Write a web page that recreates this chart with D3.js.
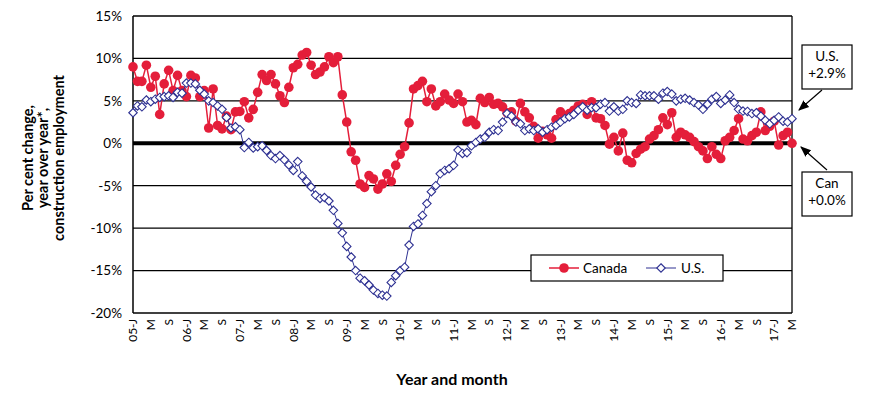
<!DOCTYPE html>
<html>
<head>
<meta charset="utf-8">
<script src="https://cdn.jsdelivr.net/npm/d3@7"></script>
<style>
  body { margin: 0; background: #fff; }
  text { font-family: Lato, "Open Sans", sans-serif; fill: #000; }
</style>
</head>
<body>
<script>
// monthly, Jan 2005 .. May 2017
const canada = [
  9.0, 7.3, 7.3, 9.2, 6.6, 7.9, 3.4, 7.0, 8.6, 6.2, 8.0, 6.2,
  5.5, 8.0, 7.7, 5.5, 6.2, 1.8, 6.4, 2.1, 1.7, 3.2, 1.6, 3.7,
  3.75, 4.9, 3.0, 4.0, 6.0, 8.1, 7.4, 8.1, 7.0, 5.6, 4.8, 6.6,
  8.9, 9.3, 10.4, 10.7, 9.2, 8.1, 8.4, 9.0, 10.2, 9.5, 10.2, 5.7,
  2.5, -1.0, -2.0, -4.8, -5.2, -3.8, -4.2, -5.4, -4.8, -3.6, -4.5, -2.6,
  -1.3, -0.4, 2.4, 6.4, 6.8, 7.3, 4.9, 6.4, 4.4, 4.9, 5.8, 5.1,
  4.7, 5.8, 4.9, 2.5, 2.7, 2.2, 5.3, 4.8, 5.4, 4.6, 4.7, 4.3,
  3.6, 3.7, 2.6, 4.7, 3.7, 3.0, 2.0, 0.6, 1.4, 1.0, 0.6, 2.8,
  3.7, 3.2, 3.5, 3.9, 4.4, 4.6, 3.4, 4.9, 3.0, 2.9, 2.1, -0.1,
  0.7, -0.9, 1.2, -2.0, -2.3, -1.2, -0.7, -0.4, 0.5, 0.9, 1.6, 3.0,
  2.2, 3.6, 0.7, 1.3, 1.0, 0.7, 0.2, -0.4, -0.9, -1.8, -0.4, -1.3,
  -1.8, 0.3, 0.7, 1.5, 2.9, 0.5, 0.3, 0.9, 1.3, 3.7, 1.5, 2.0,
  2.6, -0.2, 0.9, 1.3, 0.0
];
const us = [
  3.6, 4.4, 4.3, 5.1, 4.9, 5.2, 5.4, 5.5, 5.6, 5.4, 6.0, 5.9,
  7.1, 7.1, 7.0, 6.25, 5.8, 5.0, 4.8, 4.4, 4.0, 3.05, 1.8, 1.95,
  1.6, -0.5, 0.1, -0.55, -0.4, -0.3, -0.85, -1.45, -1.8, -1.45, -1.95, -2.55,
  -3.2, -2.15, -3.85, -4.5, -5.15, -6.1, -6.5, -6.4, -6.8, -7.9, -9.45, -10.55,
  -12.15, -13.4, -15.0, -15.9, -16.2, -16.7, -17.3, -17.7, -17.9, -18.0, -16.4, -15.6,
  -15.0, -14.6, -12.0, -9.8, -9.5, -8.5, -7.1, -5.7, -5.0, -3.6, -3.2, -3.0,
  -2.6, -0.8, -1.2, -1.1, -0.3, 0.1, 0.5, 0.7, 1.3, 1.6, 1.5, 2.5,
  3.5, 3.2, 2.5, 2.3, 1.5, 1.7, 1.5, 1.7, 1.3, 1.6, 1.9, 2.1,
  2.5, 2.9, 3.1, 3.4, 3.9, 4.3, 3.9, 4.2, 4.2, 4.6, 4.8, 3.8,
  4.3, 3.8, 4.0, 5.0, 4.8, 4.7, 5.7, 5.6, 5.6, 5.6, 5.2, 5.9,
  6.1, 5.8, 5.0, 5.2, 5.3, 5.1, 4.8, 4.5, 4.0, 4.6, 5.2, 5.5,
  4.7, 5.1, 5.7, 4.8, 4.0, 3.8, 3.75, 3.5, 3.6, 3.2, 2.7, 2.3,
  2.7, 3.1, 2.6, 2.5, 2.9
];
// one label every 4 months
const monthLabels = [
  '05-J', 'M', 'S', '06-J', 'M', 'S', '07-J', 'M', 'S', '08-J', 'M', 'S',
  '09-J', 'M', 'S', '10-J', 'M', 'S', '11-J', 'M', 'S', '12-J', 'M', 'S',
  '13-J', 'M', 'S', '14-J', 'M', 'S', '15-J', 'M', 'S', '16-J', 'M', 'S',
  '17-J', 'M'
];
const yTicks = [15, 10, 5, 0, -5, -10, -15, -20];
const seriesNames = ['Canada', 'U.S.'];
const lastLabels = ['U.S.', '+2.9%', 'Can', '+0.0%'];

const W = 870, H = 394;
const plotL = 133, plotR = 792, plotT = 16, plotB = 313;
const red = '#e41e3a', navy = '#2e3192';

const svg = d3.select('body').append('svg')
  .attr('width', W).attr('height', H);

const x = d3.scaleLinear().domain([0, canada.length - 1]).range([plotL, plotR]);
const y = d3.scaleLinear().domain([-20, 15]).range([plotB, plotT]);

// gridlines
svg.append('g').selectAll('line')
  .data(yTicks)
  .join('line')
  .attr('x1', plotL).attr('x2', plotR)
  .attr('y1', d => y(d)).attr('y2', d => y(d))
  .attr('stroke', '#000')
  .attr('stroke-width', d => d === 0 ? 4 : 1.3);

// plot frame sides
svg.append('line').attr('x1', plotL).attr('x2', plotL).attr('y1', plotT).attr('y2', plotB)
  .attr('stroke', '#000').attr('stroke-width', 1.5);
svg.append('line').attr('x1', plotR).attr('x2', plotR).attr('y1', plotT).attr('y2', plotB)
  .attr('stroke', '#000').attr('stroke-width', 1.3);

// y axis labels
const yAxis = d3.axisLeft(y).tickValues(yTicks).tickSize(0).tickPadding(11)
  .tickFormat(d => d + '%');
const yAxisG = svg.append('g').attr('transform', `translate(${plotL},0)`).call(yAxis);
yAxisG.select('.domain').remove();
yAxisG.selectAll('text').style('font-size', '13.5px').style('font-family', 'Lato, sans-serif');

// x labels, rotated
svg.append('g').selectAll('text')
  .data(monthLabels)
  .join('text')
  .attr('transform', (d, i) => `translate(${x(i * 4)},${plotB + 6}) rotate(-90)`)
  .attr('text-anchor', 'end')
  .attr('dy', '0.35em')
  .style('font-size', '12px')
  .text(d => d);

const line = d3.line().x((d, i) => x(i)).y(d => y(d));

// Canada
svg.append('path').datum(canada)
  .attr('d', line).attr('fill', 'none')
  .attr('stroke', red).attr('stroke-width', 1.5);
svg.append('g').selectAll('circle')
  .data(canada)
  .join('circle')
  .attr('cx', (d, i) => x(i)).attr('cy', d => y(d))
  .attr('r', 4.8).attr('fill', red);

// U.S.
const diamond = d3.symbol().type(d3.symbolDiamond2).size(46);
svg.append('path').datum(us)
  .attr('d', line).attr('fill', 'none')
  .attr('stroke', navy).attr('stroke-width', 1);
svg.append('g').selectAll('path')
  .data(us)
  .join('path')
  .attr('d', diamond)
  .attr('transform', (d, i) => `translate(${x(i)},${y(d)})`)
  .attr('fill', '#fff').attr('stroke', navy).attr('stroke-width', 1.1);

// y title
const yTitle = svg.append('text')
  .attr('transform', 'translate(43,158) rotate(-90)')
  .attr('text-anchor', 'middle')
  .style('font-size', '14.5px').style('font-weight', 'bold');
['Per cent change,', 'year over year*,', 'construction employment'].forEach((t, k) => {
  yTitle.append('tspan').attr('x', 0).attr('y', (k - 1) * 15.5).attr('dy', '0.35em').text(t);
});

// x title
svg.append('text')
  .attr('x', 452).attr('y', 385)
  .attr('text-anchor', 'middle')
  .style('font-size', '16px').style('font-weight', 'bold')
  .text('Year and month');

// legend
const lg = svg.append('g').attr('transform', 'translate(531,255)');
lg.append('rect').attr('width', 192).attr('height', 26)
  .attr('fill', '#fff').attr('stroke', '#000').attr('stroke-width', 1.2);
lg.append('line').attr('x1', 18).attr('x2', 48).attr('y1', 13).attr('y2', 13)
  .attr('stroke', red).attr('stroke-width', 1.5);
lg.append('circle').attr('cx', 33).attr('cy', 13).attr('r', 4.8).attr('fill', red);
lg.append('text').attr('x', 52).attr('y', 13).attr('dy', '0.35em')
  .style('font-size', '13.5px').text(seriesNames[0]);
lg.append('line').attr('x1', 115).attr('x2', 145).attr('y1', 13).attr('y2', 13)
  .attr('stroke', navy).attr('stroke-width', 1);
lg.append('path').attr('d', diamond).attr('transform', 'translate(130,13)')
  .attr('fill', '#fff').attr('stroke', navy).attr('stroke-width', 1.1);
lg.append('text').attr('x', 150).attr('y', 13).attr('dy', '0.35em')
  .style('font-size', '13.5px').text(seriesNames[1]);

// end-value callouts
svg.append('defs').append('marker')
  .attr('id', 'arr').attr('viewBox', '0 0 10 10')
  .attr('refX', 9).attr('refY', 5)
  .attr('markerWidth', 9).attr('markerHeight', 9)
  .attr('orient', 'auto')
  .append('path').attr('d', 'M0,1 L10,5 L0,9 Z').attr('fill', '#000');

function callout(bx, by, l1, l2, ax1, ay1, ax2, ay2) {
  svg.append('rect').attr('x', bx).attr('y', by).attr('width', 50).attr('height', 44)
    .attr('fill', '#fff').attr('stroke', '#000').attr('stroke-width', 1.2);
  svg.append('text').attr('x', bx + 25).attr('y', by + 16).attr('text-anchor', 'middle')
    .style('font-size', '13.5px').text(l1);
  svg.append('text').attr('x', bx + 25).attr('y', by + 33).attr('text-anchor', 'middle')
    .style('font-size', '13.5px').text(l2);
  svg.append('line').attr('x1', ax1).attr('y1', ay1).attr('x2', ax2).attr('y2', ay2)
    .attr('stroke', '#000').attr('stroke-width', 1.2).attr('marker-end', 'url(#arr)');
}
callout(802, 45, lastLabels[0], lastLabels[1], 822, 90, 799, 110);
callout(802, 172, lastLabels[2], lastLabels[3], 827, 170, 801, 147);
</script>
</body>
</html>
